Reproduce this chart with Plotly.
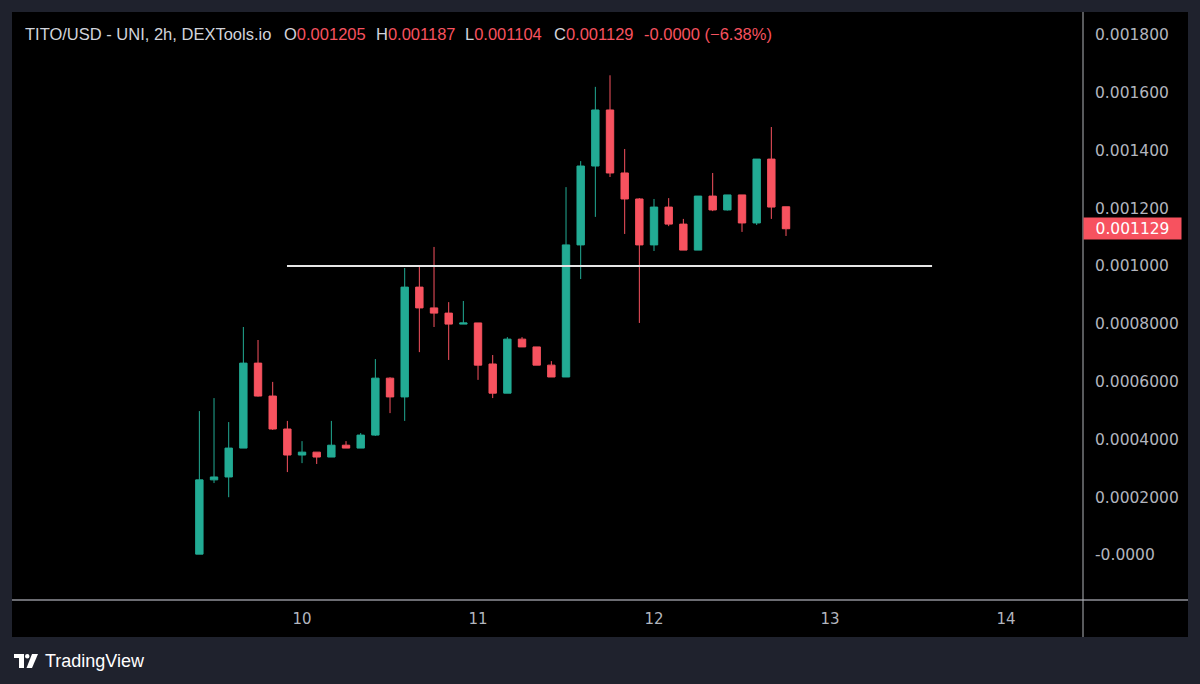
import plotly.graph_objects as go
import pandas as pd

# ---------------- data ----------------
start_time = "2024-05-09 10:00"
n_candles = 41
times = pd.date_range(start_time, periods=n_candles, freq="2h")

opens = [0.000003, 0.000260, 0.000270, 0.000370, 0.000664, 0.000550, 0.000436, 0.000346, 0.000356, 0.000339,
         0.000380, 0.000370, 0.000415, 0.000612, 0.000547, 0.000927, 0.000855, 0.000837, 0.000799, 0.000803,
         0.000661, 0.000560, 0.000747, 0.000720, 0.000657, 0.000616, 0.001073, 0.001346, 0.001540, 0.001322,
         0.001232, 0.001073, 0.001204, 0.001145, 0.001055, 0.001242, 0.001194, 0.001246, 0.001149, 0.001370,
         0.001205]
highs = [0.000498, 0.000543, 0.000460, 0.000789, 0.000744, 0.000599, 0.000464, 0.000394, 0.000356, 0.000464,
         0.000394, 0.000422, 0.000678, 0.000615, 0.000993, 0.001003, 0.001066, 0.000875, 0.000879, 0.000803,
         0.000692, 0.000754, 0.000754, 0.000720, 0.000671, 0.001273, 0.001363, 0.001620, 0.001660, 0.001405,
         0.001235, 0.001232, 0.001235, 0.001163, 0.001242, 0.001322, 0.001246, 0.001246, 0.001370, 0.001481,
         0.001205]
lows = [0.000003, 0.000249, 0.000200, 0.000370, 0.000548, 0.000433, 0.000287, 0.000318, 0.000315, 0.000339,
        0.000370, 0.000370, 0.000412, 0.000491, 0.000464, 0.000702, 0.000789, 0.000675, 0.000799, 0.000606,
        0.000543, 0.000560, 0.000720, 0.000657, 0.000616, 0.000616, 0.000955, 0.001170, 0.001308, 0.001111,
        0.000803, 0.001052, 0.001138, 0.001055, 0.001055, 0.001190, 0.001192, 0.001118, 0.001142, 0.001163,
        0.001104]
closes = [0.000260, 0.000270, 0.000370, 0.000664, 0.000550, 0.000436, 0.000346, 0.000356, 0.000339, 0.000380,
          0.000370, 0.000415, 0.000612, 0.000547, 0.000927, 0.000855, 0.000837, 0.000799, 0.000803, 0.000657,
          0.000560, 0.000747, 0.000720, 0.000657, 0.000616, 0.001073, 0.001346, 0.001540, 0.001322, 0.001232,
          0.001073, 0.001204, 0.001145, 0.001055, 0.001242, 0.001194, 0.001246, 0.001149, 0.001370, 0.001204,
          0.001129]

y_tickvals = [0.0, 0.0002, 0.0004, 0.0006, 0.0008, 0.0010, 0.0012, 0.0014, 0.0016, 0.0018]
y_ticktext = ["-0.0000", "0.0002000", "0.0004000", "0.0006000", "0.0008000",
              "0.001000", "0.001200", "0.001400", "0.001600", "0.001800"]
x_tickvals = ["2024-05-10", "2024-05-11", "2024-05-12", "2024-05-13", "2024-05-14"]
x_ticktext = ["10", "11", "12", "13", "14"]

level_value = 0.001
level_start = "2024-05-09 21:57"
level_end = "2024-05-13 13:55"

last_price = 0.001129
header_labels = ["TITO/USD - UNI, 2h, DEXTools.io", "O", "H", "L", "C", ""]
header_values = ["", "0.001205", "0.001187", "0.001104", "0.001129", "-0.0000 (\u22126.38%)"]
header_xpos = [24, 283, 375, 464, 553, 643]

x_range = ["2024-05-08 08:27", "2024-05-14 10:30"]
y_range = [-0.0001557, 0.001879]

# ---------------- style ----------------
GREEN = "#22ab94"
RED = "#f7525f"
OUTER = "#1f222d"
TEXT = "#d1d4dc"
AXIS_TEXT = "#b2b5be"

W, H = 1200, 684
L, R, T, B = 12, 1083, 12, 600


def px(x):
    return (x - L) / (R - L)


def py(y):
    return (B - y) / (B - T)


fig = go.Figure()
fig.add_trace(go.Candlestick(
    x=times, open=opens, high=highs, low=lows, close=closes,
    increasing=dict(line=dict(color=GREEN, width=1), fillcolor=GREEN),
    decreasing=dict(line=dict(color=RED, width=1), fillcolor=RED),
    whiskerwidth=0, hoverinfo="skip", showlegend=False,
))

shapes = [
    # black chart panel (incl. axis areas)
    dict(type="rect", xref="paper", yref="paper", x0=px(12), x1=px(1188), y0=py(637), y1=py(12),
         fillcolor="#000000", line=dict(width=0), layer="below"),
    # bottom axis line
    dict(type="line", xref="paper", yref="paper", x0=px(12), x1=px(1188), y0=0, y1=0,
         line=dict(color="#8f9199", width=1.5)),
    # vertical separator
    dict(type="line", xref="paper", yref="paper", x0=1, x1=1, y0=py(637), y1=1,
         line=dict(color="#b0b3b8", width=1)),
    # horizontal level
    dict(type="line", xref="x", yref="y", x0=level_start, x1=level_end, y0=level_value, y1=level_value,
         line=dict(color="#e6e6e6", width=2)),
    # TradingView logo (approximate)
    dict(type="rect", xref="paper", yref="paper", x0=px(14), x1=px(24), y0=py(658), y1=py(654),
         fillcolor="#ffffff", line=dict(width=0)),
    dict(type="rect", xref="paper", yref="paper", x0=px(19), x1=px(24), y0=py(668), y1=py(654),
         fillcolor="#ffffff", line=dict(width=0)),
    dict(type="circle", xref="paper", yref="paper", x0=px(25), x1=px(29.5), y0=py(658.5), y1=py(654),
         fillcolor="#ffffff", line=dict(width=0)),
    dict(type="path", xref="paper", yref="paper",
         path=f"M {px(32)},{py(654)} L {px(38)},{py(654)} L {px(32)},{py(668)} L {px(26.5)},{py(668)} Z",
         fillcolor="#ffffff", line=dict(width=0)),
]

annotations = []
for lab, val, xp in zip(header_labels, header_values, header_xpos):
    txt = ""
    if lab:
        txt += f"<span style='color:{TEXT}'>{lab}</span>"
    if val:
        txt += f"<span style='color:{RED}'>{val}</span>"
    annotations.append(dict(xref="paper", yref="paper", x=px(xp), y=py(34), xanchor="left", yanchor="middle",
                            text=txt, showarrow=False, borderpad=0,
                            font=dict(family="Liberation Sans, Arial", size=16.5, color=TEXT)))

annotations += [
    dict(xref="paper", yref="y", x=1, y=last_price, xanchor="left", yanchor="middle",
         text=f"{last_price:.6f}", showarrow=False, bgcolor=RED, width=95, height=19, borderpad=1,
         align="center", font=dict(family="DejaVu Sans", size=15.5, color="#ffffff")),
    dict(xref="paper", yref="paper", x=px(43), y=py(661), xanchor="left", yanchor="middle",
         text="TradingView", showarrow=False,
         font=dict(family="Liberation Sans, Arial", size=18, color="#ffffff")),
]

fig.update_layout(
    width=W, height=H, autosize=False,
    margin=dict(l=L, r=W - R, t=T, b=H - B, pad=0),
    paper_bgcolor=OUTER, plot_bgcolor="#000000",
    shapes=shapes, annotations=annotations,
    boxgap=0.28,
    xaxis=dict(type="date", range=x_range, rangeslider=dict(visible=False), showgrid=False, zeroline=False,
               tickvals=x_tickvals, ticktext=x_ticktext, ticks="", ticklabelstandoff=8,
               tickfont=dict(family="DejaVu Sans", size=15, color=AXIS_TEXT), showline=False, fixedrange=True),
    yaxis=dict(range=y_range, side="right", showgrid=False, zeroline=False, showline=False,
               tickvals=y_tickvals, ticktext=y_ticktext, ticks="", ticklabelstandoff=11,
               tickfont=dict(family="DejaVu Sans", size=15.5, color=AXIS_TEXT), fixedrange=True),
    hovermode=False,
)

fig.write_html("out.html")
